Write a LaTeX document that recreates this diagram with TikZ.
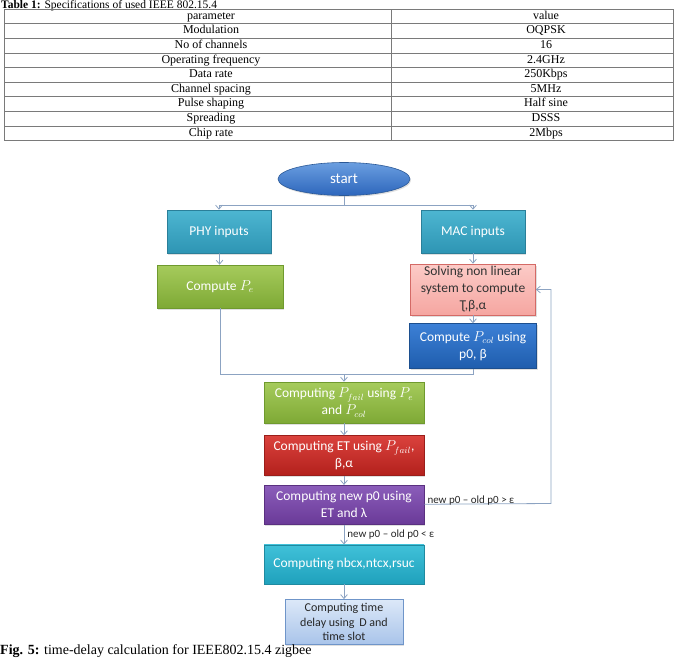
\documentclass[tikz,border=0pt]{standalone}
\usepackage{fontspec}
\setmainfont{Liberation Serif}
\newfontfamily\flowfont{Carlito}
\usetikzlibrary{arrows.meta,positioning,shapes.geometric,shadows}
\definecolor{linec}{HTML}{8CA3C2}
\definecolor{tline}{HTML}{7A7A7A}
\definecolor{start1}{HTML}{6A9EE0}
\definecolor{start2}{HTML}{2D66BC}
\definecolor{start3}{HTML}{2A5896}
\definecolor{teal1}{HTML}{4DB6D1}
\definecolor{teal2}{HTML}{2E95B4}
\definecolor{teal3}{HTML}{2A7F99}
\definecolor{grn1}{HTML}{A6CB5C}
\definecolor{grn2}{HTML}{7EA935}
\definecolor{grn3}{HTML}{6F9A2E}
\definecolor{pnk1}{HTML}{FCCBC7}
\definecolor{pnk2}{HTML}{F5A6A1}
\definecolor{pnk3}{HTML}{D46A66}
\definecolor{blu1}{HTML}{3C80D6}
\definecolor{blu2}{HTML}{1F5DAD}
\definecolor{blu3}{HTML}{1C4F8F}
\definecolor{red1}{HTML}{DA423D}
\definecolor{red2}{HTML}{B3201C}
\definecolor{red3}{HTML}{9A1E1A}
\definecolor{pur1}{HTML}{8B5DBA}
\definecolor{pur2}{HTML}{6A3A98}
\definecolor{pur3}{HTML}{5A3080}
\definecolor{cyn1}{HTML}{40C1D9}
\definecolor{cyn2}{HTML}{1FA1BC}
\definecolor{cyn3}{HTML}{1F8AA0}
\definecolor{lbl1}{HTML}{DCE8F8}
\definecolor{lbl2}{HTML}{A9C4EA}
\definecolor{lbl3}{HTML}{6F95C9}
\tikzset{
  blk/.style={draw, rectangle, minimum height=43pt, minimum width=104pt, align=center, inner sep=2pt, text=white,
    font=\flowfont\fontsize{13.5}{17}\selectfont, line width=0.6pt,
    drop shadow={opacity=0.25, shadow xshift=1pt, shadow yshift=-1.5pt}},
  oval/.style={draw, ellipse, minimum width=132pt, minimum height=33pt, text=white, line width=0.6pt,
    font=\flowfont\fontsize{15}{17}\selectfont, top color=start1, bottom color=start2, draw=start3,
    drop shadow={opacity=0.25, shadow xshift=1pt, shadow yshift=-1.5pt}},
  arr/.style={-{Straight Barb[length=1.4mm, width=2.4mm]}, draw=linec, line width=0.8pt},
  lne/.style={draw=linec, line width=0.8pt},
  lbl/.style={font=\flowfont\fontsize{11}{13}\selectfont, text=black!85, inner sep=1pt},
  cell/.style={font=\fontsize{12}{14}\selectfont, inner sep=0pt, text height=8.5pt, text depth=2.5pt},
}

\begin{document}
\begin{tikzpicture}[x=1pt, y=-1pt]
\useasboundingbox (0,0) rectangle (681,657);

% table
\node[anchor=base west, inner sep=0pt, font=\fontsize{11.5}{13}\selectfont] (ttl) at (1,8.3)
  {\textbf{Table 1:} Specifications of used IEEE 802.15.4};
\draw[tline, line width=0.8pt] (4,9) rectangle (673,140.5);
\foreach \r in {1,...,8}
  \draw[tline, line width=0.6pt] (4,{9+\r*14.61}) -- (673,{9+\r*14.61});
\draw[tline, line width=0.6pt] (391,9) -- (391,140.5);
\foreach \p/\v [count=\i] in {parameter/value, Modulation/OQPSK, No of channels/16,
    Operating frequency/2.4GHz, Data rate/250Kbps, Channel spacing/5MHz,
    Pulse shaping/Half sine, Spreading/DSSS, Chip rate/2Mbps} {
  \node[cell] (par\i) at (211,{9+(\i-0.5)*14.61}) {\p};
  \node[cell] (val\i) at (546,{9+(\i-0.5)*14.61}) {\v};
}

% flowchart
\node[oval] (start) at (344,179) {start};

\node[blk, top color=teal1, bottom color=teal2, draw=teal3] (phy) at (219,231.5) {PHY inputs};
\node[blk, top color=teal1, bottom color=teal2, draw=teal3] (mac) at (473,231.5) {MAC inputs};

\node[blk, minimum width=126pt, top color=grn1, bottom color=grn2, draw=grn3] (pe) at (220,286.5) {Compute $P_e$};
\node[blk, minimum width=125pt, minimum height=51pt, top color=pnk1, bottom color=pnk2, draw=pnk3, text=black!80]
  (solve) at (473,289.5) {Solving non linear\\system to compute\\Ʈ,β,α};
\node[blk, minimum width=127pt, minimum height=45pt, below=8pt of solve, top color=blu1, bottom color=blu2, draw=blu3]
  (pcol) {Compute $P_{col}$ using\\p0, β};

\node[blk, minimum width=160pt, minimum height=41pt, top color=grn1, bottom color=grn2, draw=grn3]
  (pfail) at (344,402.5) {Computing $P_{fail}$ using $P_e$\\and $P_{col}$};
\node[blk, minimum width=160pt, minimum height=40pt, below=12pt of pfail, top color=red1, bottom color=red2, draw=red3]
  (et) {Computing ET using $P_{fail}$,\\β,α};
\node[blk, minimum width=160pt, minimum height=39pt, below=9pt of et, top color=pur1, bottom color=pur2, draw=pur3]
  (newp0) {Computing new p0 using\\ET and λ};
\node[blk, minimum width=160pt, minimum height=39pt, below=20pt of newp0, top color=cyn1, bottom color=cyn2, draw=cyn3]
  (nbcx) {Computing nbcx,ntcx,rsuc};
\node[blk, minimum width=118pt, minimum height=45pt, below=15pt of nbcx, top color=lbl1, bottom color=lbl2, draw=lbl3,
  text=black!85, font=\flowfont\fontsize{12}{14.5}\selectfont]
  (tdelay) {Computing time\\delay using\, D and\\time slot};

\coordinate (split) at (344,205);
\coordinate (join) at (344,374);
\coordinate (fb) at (551,503.5);

\draw[lne] (start) -- (split);
\draw[arr] (split) -| (phy);
\draw[arr] (split) -| (mac);
\draw[arr] (phy) -- (pe);
\draw[arr] (mac) -- (solve);
\draw[arr] (solve) -- (pcol);
\draw[lne] (pe) |- (join);
\draw[lne] (pcol) |- (join);
\draw[arr] (join) -- (pfail);
\draw[arr] (pfail) -- (et);
\draw[arr] (et) -- (newp0);
\draw[arr] (newp0) -- (fb) |- (solve);
\node[lbl, anchor=south west] (gt) at ([xshift=2pt, yshift=-2pt]newp0.east) {new p0 – old p0 > ε};
\draw[arr] (newp0) -- node[lbl, right=2pt] (lt) {new p0 – old p0 < ε} (nbcx);
\draw[arr] (nbcx) -- (tdelay);

\node[anchor=base west, inner sep=0pt, font=\fontsize{14}{16}\selectfont] (cap) at (0,654)
  {\textbf{Fig. 5:} time-delay calculation for IEEE802.15.4 zigbee};
\end{tikzpicture}
\end{document}
